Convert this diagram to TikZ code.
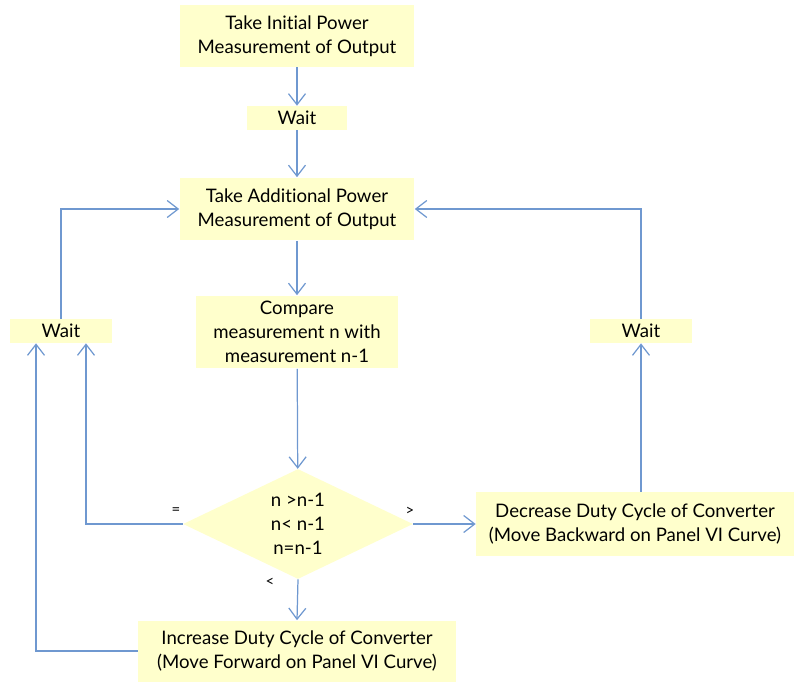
\documentclass[tikz,border=0pt]{standalone}
\usepackage{fontspec}
\setmainfont{Lato}[Ligatures={NoCommon}]
\usetikzlibrary{shapes.geometric,arrows.meta}
\definecolor{boxfill}{HTML}{FFFFCC}
\definecolor{linkblue}{HTML}{6F98D0}
\tikzset{
    stepbox/.style={fill=boxfill, align=center, inner sep=0pt, font=\fontsize{10.6}{13.7}\selectfont},
    link/.style={draw=linkblue, line width=0.7pt},
    cmp/.style={font=\fontsize{8.5}{9}\selectfont, inner sep=1pt}
}
\begin{document}
\begin{tikzpicture}[x=0.02cm, y=-0.02cm, >={Straight Barb[length=2.2mm,width=3.4mm]}]
\useasboundingbox (0,0) rectangle (795,683);
\node[stepbox, minimum width=4.7cm, minimum height=1.24cm] (init) at (297,36) {Take Initial Power\\Measurement of Output};
\node[stepbox, minimum width=2.02cm, minimum height=0.48cm] (wait1) at (297,118) {Wait};
\node[stepbox, minimum width=4.7cm, minimum height=1.26cm] (addmeas) at (297,209) {Take Additional Power\\Measurement of Output};
\node[stepbox, minimum width=4.04cm, minimum height=1.46cm] (compare) at (297,332) {Compare\\measurement n with\\measurement n-1};
\node[stepbox, minimum width=2.04cm, minimum height=0.48cm] (waitL) at (61,331) {Wait};
\node[stepbox, minimum width=2.06cm, minimum height=0.48cm] (waitR) at (641,331) {Wait};
\node[stepbox, diamond, aspect=2.09, minimum width=4.6cm, minimum height=2.2cm] (decide) at (298,524) {n >n-1\\n< n-1\\n=n-1};
\node[stepbox, minimum width=6.36cm, minimum height=1.28cm] (decrease) at (635,524) {Decrease Duty Cycle of Converter\\(Move Backward on Panel VI Curve)};
\node[stepbox, minimum width=6.36cm, minimum height=1.22cm] (increase) at (297,651) {Increase Duty Cycle of Converter\\(Move Forward on Panel VI Curve)};
% straight run
\draw[link,->] (init) -- (wait1);
\draw[link,->] (wait1) -- (addmeas);
\draw[link,->] (addmeas) -- (compare);
\draw[link,->] (compare) -- (decide);
% branches
\draw[link,->] (decide.east) -- (decrease.west);
\draw[link,->] (decide.south) -- (increase.north);
\draw[link,->] (decide.west) -| ([xshift=0.5cm]waitL.south);
\draw[link,->] (increase.west) -| ([xshift=-0.5cm]waitL.south);
\draw[link,->] (decrease.north -| waitR.south) -- (waitR.south);
% back to measurement
\draw[link,->] (waitL.north) |- (addmeas.west);
\draw[link,->] (waitR.north) |- (addmeas.east);
\node[cmp] (lbleq) at (176,511) {=};
\node[cmp] (lblgt) at (410,511) {>};
\node[cmp] (lbllt) at (270,582) {<};
\end{tikzpicture}
\end{document}
